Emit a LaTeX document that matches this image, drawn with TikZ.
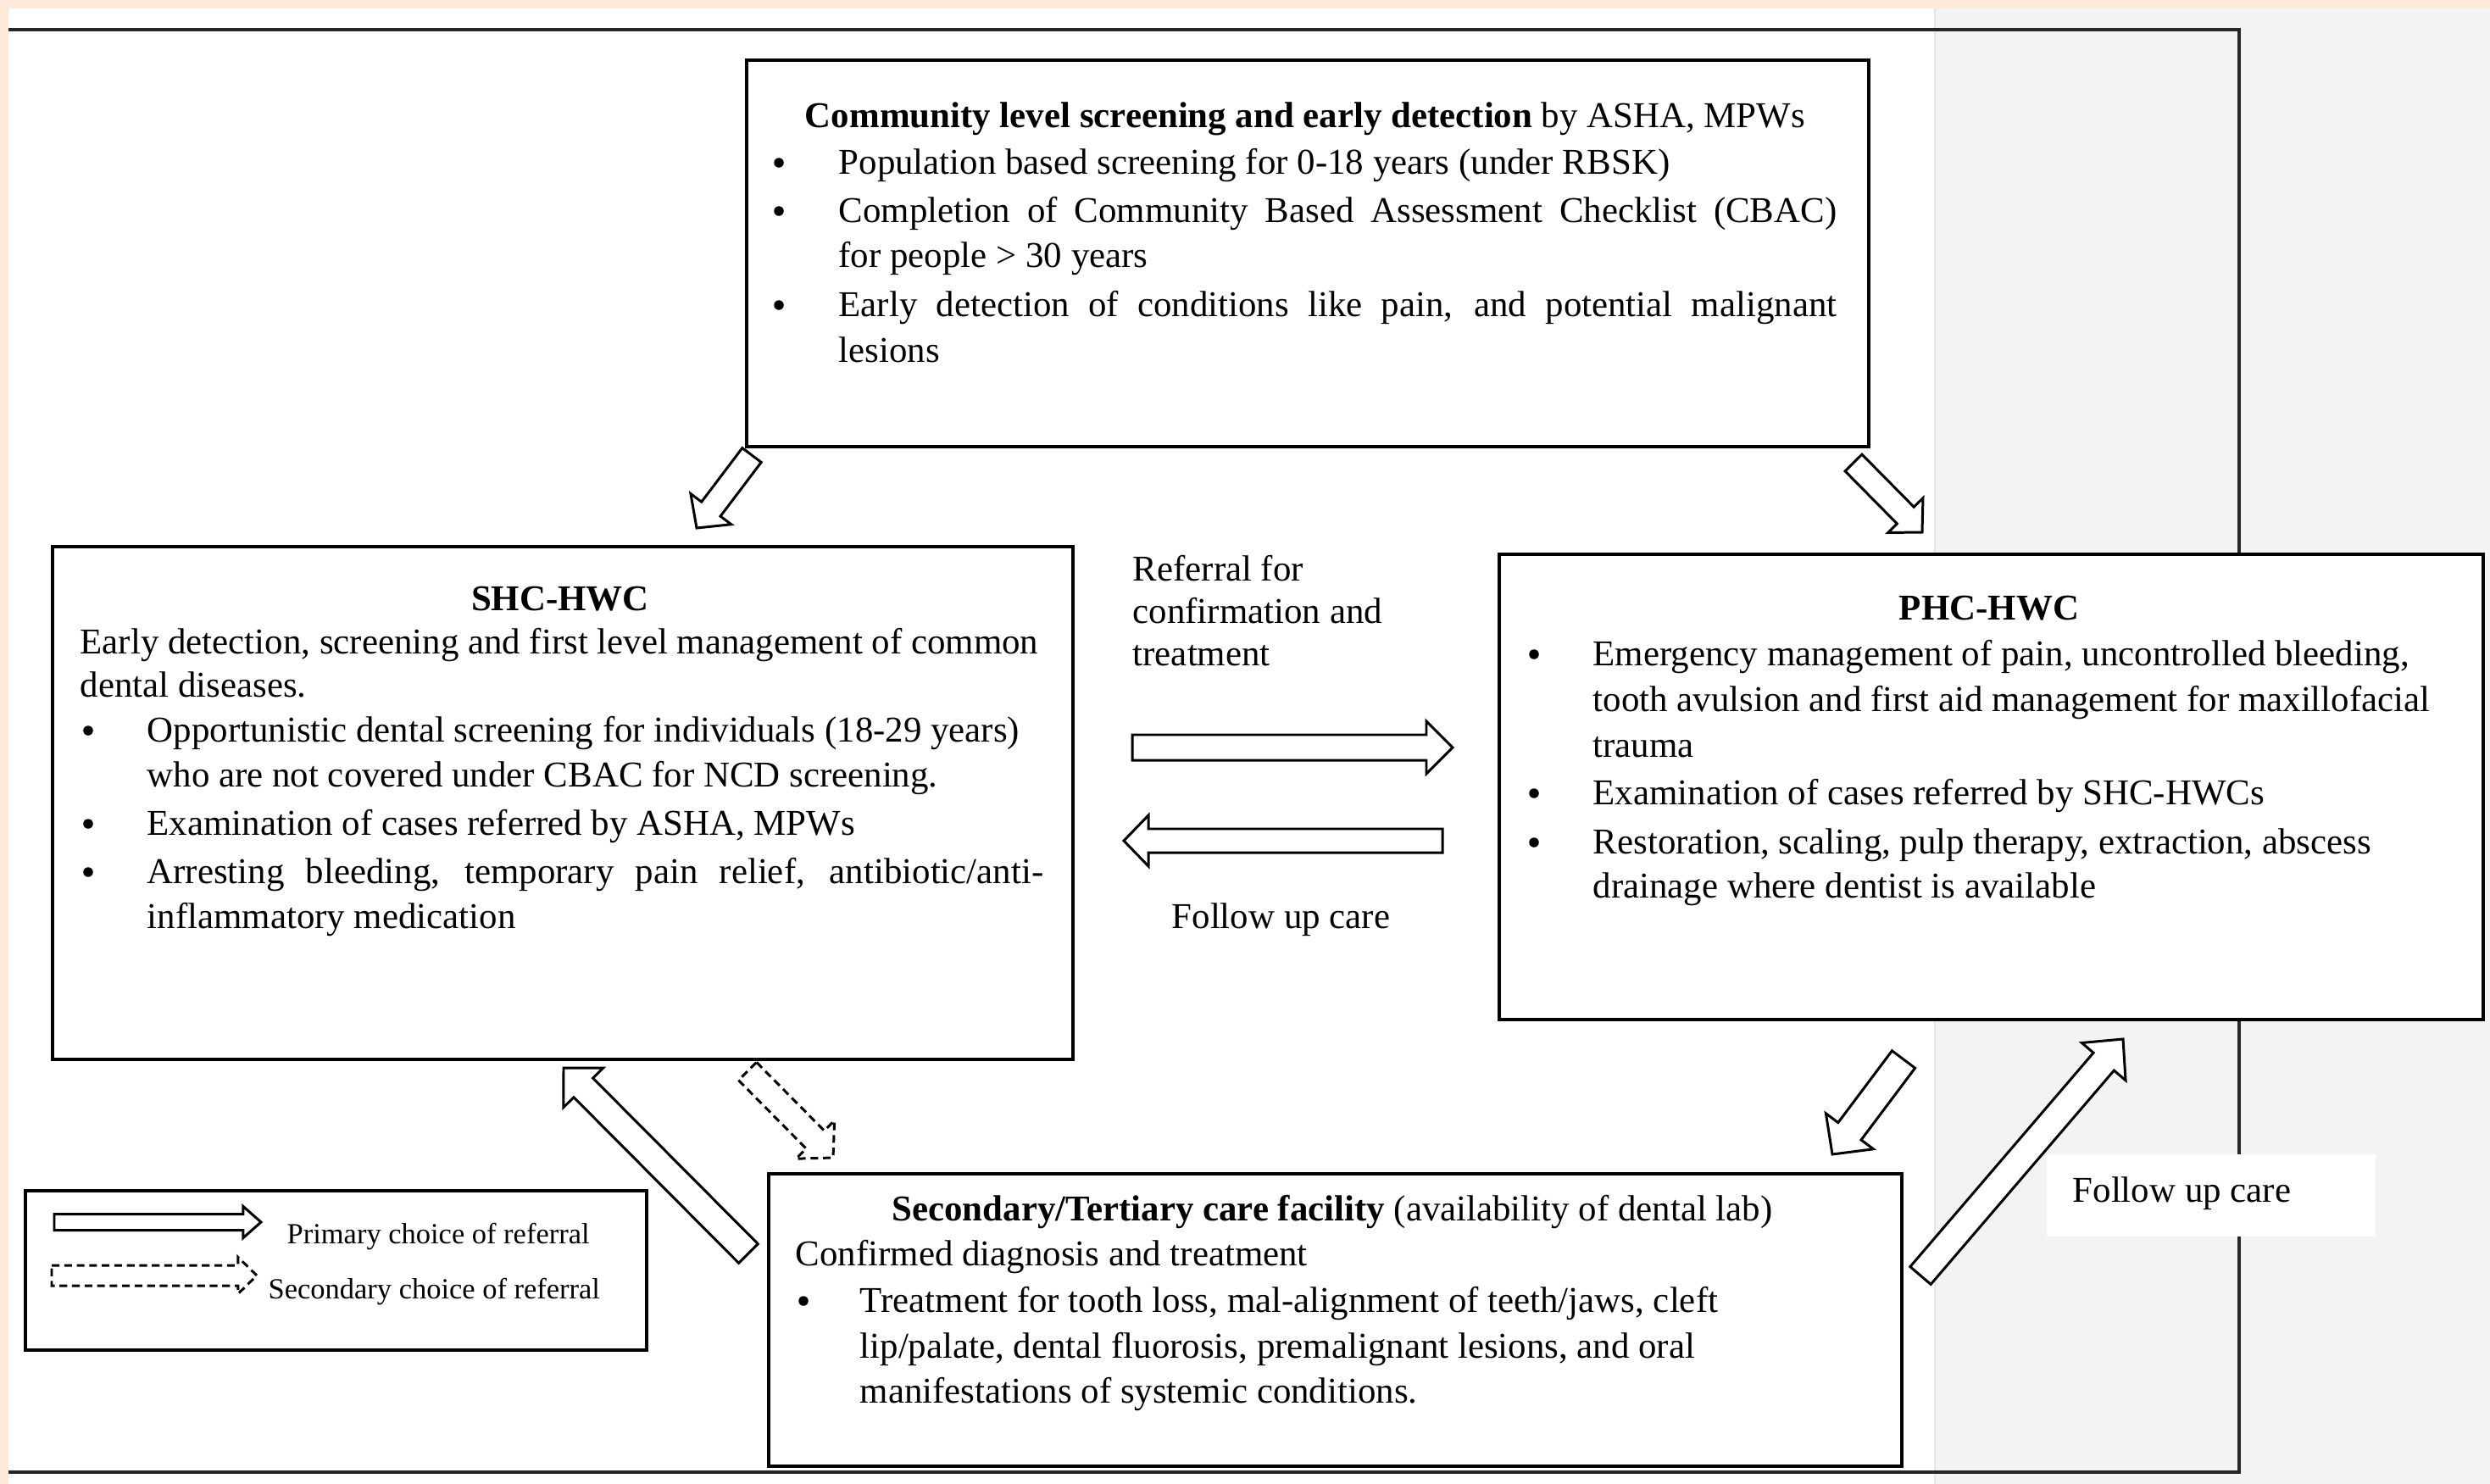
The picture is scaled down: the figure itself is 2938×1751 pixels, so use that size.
\documentclass[tikz,border=0pt]{standalone}
\usepackage{fontspec}
\setmainfont{Liberation Serif}
\usetikzlibrary{calc}
\definecolor{peach}{RGB}{253,234,218}
\definecolor{panelgray}{RGB}{243,243,243}
\tikzset{
  box/.style={draw, line width=1.1pt, fill=white, inner sep=0pt, anchor=north west},
  txt/.style={font=\fontsize{12.2}{14}\selectfont, inner sep=0pt, anchor=base west},
  ttl/.style={txt, anchor=base},
  bul/.style={circle, fill=black, inner sep=0pt, minimum size=0.115cm},
  legtxt/.style={font=\fontsize{9.8}{11}\selectfont, inner sep=0pt, anchor=base west},
  arr/.style={draw=black, line width=0.85pt, fill=white, line join=miter},
  darr/.style={arr, dash pattern=on 2.6pt off 1.6pt},
  framel/.style={line width=0.9pt, black!85}
}
% [style]{tail}{tip}{shaft half width}{head half width}{head length}
\newcommand\blockarrow[6][]{%
  \coordinate (bh) at ($(#3)!#6!(#2)$);
  \draw[#1] ($(#2)!#4!90:(#3)$) -- ($(bh)!#4!90:(#3)$) -- ($(bh)!#5!90:(#3)$) -- (#3)
    -- ($(bh)!#5!-90:(#3)$) -- ($(bh)!#4!-90:(#3)$) -- ($(#2)!#4!-90:(#3)$) -- cycle;
}
\begin{document}
\begin{tikzpicture}[x=0.01cm,y=-0.01cm]
\useasboundingbox (0,0) rectangle (2938,1751);
% backgrounds
\fill[peach] (0,0) rectangle (2938,1751);
\fill[white] (10,10) rectangle (2283,1751);
\fill[panelgray] (2283,10) rectangle (2938,1751);
\draw[line width=0.5pt, black!10] (2283,10) -- (2283,1751);
% outer frame
\draw[framel] (10,35) -- (2642,35) -- (2642,1737) -- (10,1737);

% ---------- boxes ----------
\node[box, minimum width=13.23cm, minimum height=4.56cm] (top) at (879,69) {};
\node[box, minimum width=12.03cm, minimum height=6.05cm] (shc) at (60,643) {};
\node[box, minimum width=11.60cm, minimum height=5.49cm] (phc) at (1767,652) {};
\node[box, minimum width=13.36cm, minimum height=3.45cm] (sec) at (905,1383) {};
\node[box, minimum width=7.33cm, minimum height=1.88cm] (leg) at (28,1403) {};
\node[fill=white, inner sep=0pt, anchor=north west, minimum width=3.88cm, minimum height=0.97cm] (fubox) at (2414,1361) {};

% ---------- top box text ----------
\node[ttl] (topT) at (1540,150) {\textbf{Community level screening and early detection} by ASHA, MPWs};
\node[bul] (tb1) at (919,192) {};
\node[txt] (t1) at (989,205) {Population based screening for 0-18 years (under RBSK)};
\node[bul] (tb2) at (919,249) {};
\node[txt] (t2a) at (989,262) {\makebox[11.77cm][s]{Completion of Community Based Assessment Checklist (CBAC)}};
\node[txt] (t2b) at (989,315) {for people > 30 years};
\node[bul] (tb3) at (919,360) {};
\node[txt] (t3a) at (989,373) {\makebox[11.77cm][s]{Early detection of conditions like pain, and potential malignant}};
\node[txt] (t3b) at (989,427) {lesions};

% ---------- SHC box text ----------
\node[ttl] (shcT) at (661,720) {\textbf{SHC-HWC}};
\node[txt] (s0a) at (94,771) {Early detection, screening and first level management of common};
\node[txt] (s0b) at (94,822) {dental diseases.};
\node[bul] (sb1) at (104,862) {};
\node[txt] (s1a) at (173,875) {Opportunistic dental screening for individuals (18-29 years)};
\node[txt] (s1b) at (173,928) {who are not covered under CBAC for NCD screening.};
\node[bul] (sb2) at (104,972) {};
\node[txt] (s2) at (173,985) {Examination of cases referred by ASHA, MPWs};
\node[bul] (sb3) at (104,1029) {};
\node[txt] (s3a) at (173,1042) {\makebox[10.57cm][s]{Arresting bleeding, temporary pain relief, antibiotic/anti-}};
\node[txt] (s3b) at (173,1095) {inflammatory medication};

% ---------- PHC box text ----------
\node[ttl] (phcT) at (2347,731) {\textbf{PHC-HWC}};
\node[bul] (pb1) at (1810,772) {};
\node[txt] (p1a) at (1879,785) {Emergency management of pain, uncontrolled bleeding,};
\node[txt] (p1b) at (1879,839) {tooth avulsion and first aid management for maxillofacial};
\node[txt] (p1c) at (1879,893) {trauma};
\node[bul] (pb2) at (1810,936) {};
\node[txt] (p2) at (1879,949) {Examination of cases referred by SHC-HWCs};
\node[bul] (pb3) at (1810,994) {};
\node[txt] (p3a) at (1879,1007) {Restoration, scaling, pulp therapy, extraction, abscess};
\node[txt] (p3b) at (1879,1059) {drainage where dentist is available};

% ---------- Secondary box text ----------
\node[ttl] (secT) at (1572,1440) {\textbf{Secondary/Tertiary care facility} (availability of dental lab)};
\node[txt] (c0) at (938,1493) {Confirmed diagnosis and treatment};
\node[bul] (cb1) at (948,1535) {};
\node[txt] (c1a) at (1014,1548) {Treatment for tooth loss, mal-alignment of teeth/jaws, cleft};
\node[txt] (c1b) at (1014,1602) {lip/palate, dental fluorosis, premalignant lesions, and oral};
\node[txt] (c1c) at (1014,1655) {manifestations of systemic conditions.};

% ---------- middle labels ----------
\node[txt] (r1) at (1336,685) {Referral for};
\node[txt] (r2) at (1336,735) {confirmation and};
\node[txt] (r3) at (1336,785) {treatment};
\node[txt] (fu1) at (1382,1095) {Follow up care};
\node[txt] (fu2) at (2445,1418) {Follow up care};

% ---------- legend ----------
\node[legtxt] (l1) at (338,1467) {Primary choice of referral};
\node[legtxt] (l2) at (316,1532) {Secondary choice of referral};

% ---------- arrow end points ----------
\coordinate (aAt) at (887,537);   \coordinate (aAh) at (822,623);
\coordinate (aBt) at (2187,546);  \coordinate (aBh) at (2268,628);
\coordinate (aCt) at (1336,882);  \coordinate (aCh) at (1714,882);
\coordinate (aDt) at (1702,992);  \coordinate (aDh) at (1326,992);
\coordinate (aEt) at (882,1264);  \coordinate (aEh) at (983,1366);
\coordinate (aFt) at (883,1479);  \coordinate (aFh) at (665,1260);
\coordinate (aGt) at (2246,1250); \coordinate (aGh) at (2162,1362);
\coordinate (aHt) at (2266,1505); \coordinate (aHh) at (2505,1226);
\coordinate (lAt) at (64,1442);   \coordinate (lAh) at (308,1442);
\coordinate (lBt) at (61,1505);   \coordinate (lBh) at (303,1505);

% ---------- arrows ----------
\blockarrow[arr]{aAt}{aAh}{0.14cm}{0.30cm}{0.28cm}
\blockarrow[arr]{aBt}{aBh}{0.14cm}{0.29cm}{0.28cm}
\blockarrow[arr]{aCt}{aCh}{0.15cm}{0.31cm}{0.31cm}
\blockarrow[arr]{aDt}{aDh}{0.14cm}{0.30cm}{0.29cm}
\blockarrow[darr]{aEt}{aEh}{0.15cm}{0.32cm}{0.30cm}
\blockarrow[arr]{aFt}{aFh}{0.16cm}{0.33cm}{0.33cm}
\blockarrow[arr]{aGt}{aGh}{0.17cm}{0.35cm}{0.34cm}
\blockarrow[arr]{aHt}{aHh}{0.16cm}{0.34cm}{0.35cm}
\blockarrow[arr]{lAt}{lAh}{0.095cm}{0.185cm}{0.21cm}
\blockarrow[darr]{lBt}{lBh}{0.12cm}{0.215cm}{0.22cm}
\end{tikzpicture}
\end{document}
